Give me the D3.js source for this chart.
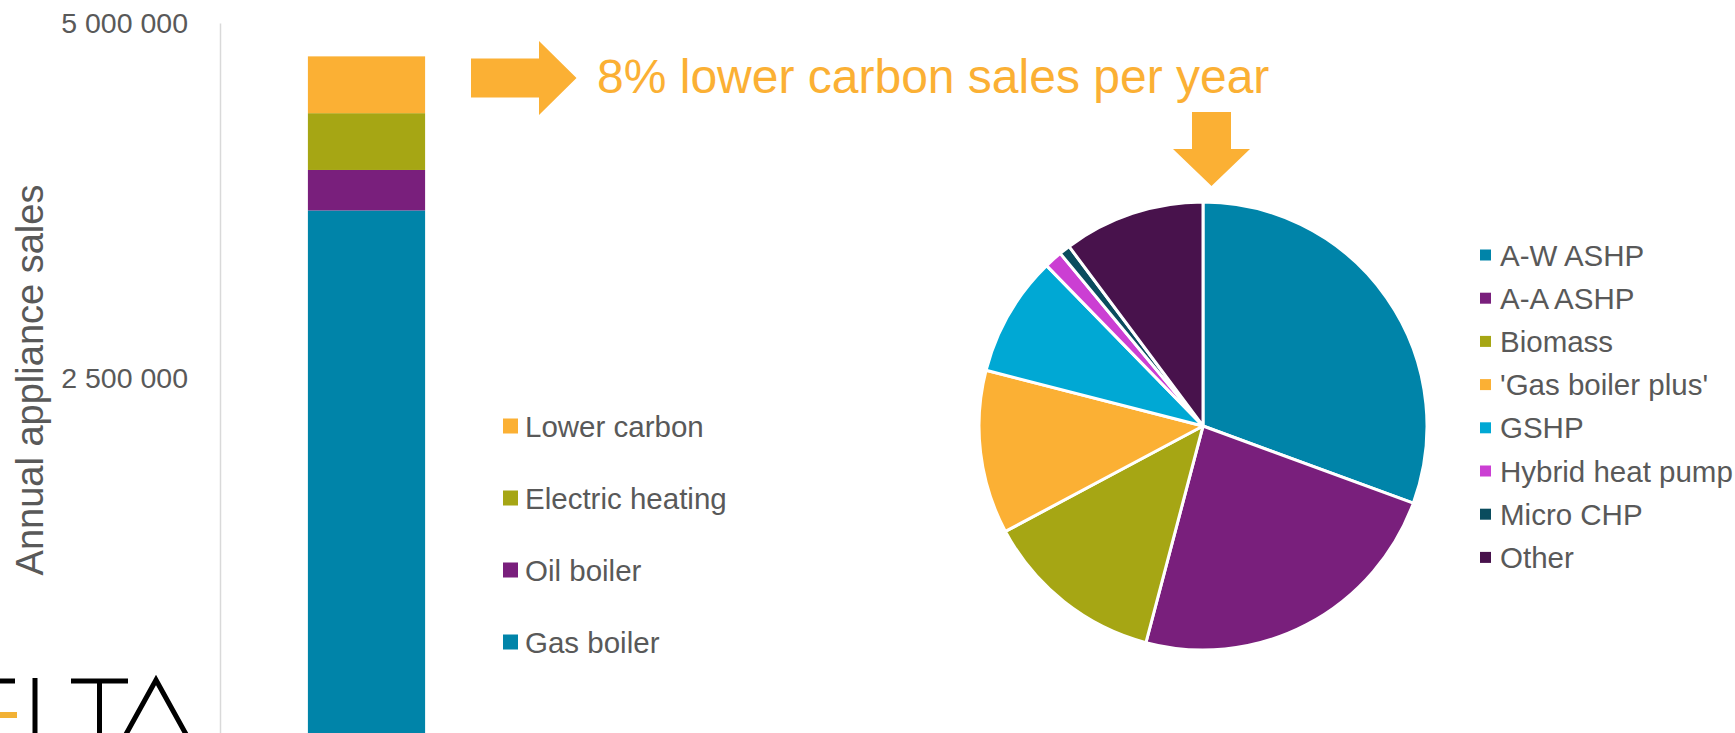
<!DOCTYPE html>
<html>
<head>
<meta charset="utf-8">
<script src="https://cdn.jsdelivr.net/npm/d3@7"></script>
<style>
  html, body { margin:0; padding:0; background:#fff; overflow:hidden; }
  svg { display:block; font-family: Arial, "Liberation Sans", sans-serif; }
</style>
</head>
<body>
<div class="chart"></div>
<script>
// stacked bar: annual appliance sales
const barCategories = ["Gas boiler", "Oil boiler", "Electric heating", "Lower carbon"];
const barValues = [3680000, 285000, 400000, 400000];
const barColors = ["#0084A9", "#791F7C", "#A6A614", "#FBB034"];
const yTicks = [2500000, 5000000];

// pie: split of the lower carbon sales (%)
const pieCategories = ["A-W ASHP", "A-A ASHP", "Biomass", "'Gas boiler plus'", "GSHP", "Hybrid heat pump", "Micro CHP", "Other"];
const pieValues = [30.6, 23.5, 13.1, 11.8, 8.7, 1.3, 0.8, 10.2];
const pieColors = ["#0084A9", "#791F7C", "#A6A614", "#FBB034", "#00A8D4", "#CB3FD3", "#0A4C5E", "#48124C"];

const title = "8% lower carbon sales per year";
const yLabel = "Annual appliance sales";

const W = 1735, H = 733;
const textColor = "#595959";
const accent = "#FBB034";

const svg = d3.select(".chart").append("svg")
    .attr("width", W)
    .attr("height", H);

// ---- bar ----
const yScale = d3.scaleLinear().domain([0, 5000000]).range([733, 23]);
const xScale = d3.scaleBand().domain(["sales"]).range([220, 513]).paddingOuter(0.75);

const fmt = d3.formatLocale({ decimal: ",", thousands: " ", grouping: [3], currency: ["", ""] }).format(",d");

const yAxis = d3.axisLeft(yScale).tickValues(yTicks).tickFormat(fmt).tickSize(0).tickPadding(32);

const axis = svg.append("g")
    .attr("transform", "translate(220,0)")
    .call(yAxis);

axis.select(".domain").attr("stroke", "#D9D9D9").attr("stroke-width", 1.5);
axis.selectAll(".tick text")
    .attr("fill", textColor)
    .attr("font-size", 28.5)
    .attr("font-family", "Arial, 'Liberation Sans', sans-serif");

svg.append("text")
    .attr("transform", "translate(43,380) rotate(-90)")
    .attr("text-anchor", "middle")
    .attr("fill", textColor)
    .attr("font-size", 38)
    .text(yLabel);

const row = {};
barCategories.forEach((c, i) => row[c] = barValues[i]);
const stacked = d3.stack().keys(barCategories)([row]);

svg.append("g").selectAll("rect")
    .data(stacked)
    .enter()
    .append("rect")
    .attr("x", xScale("sales"))
    .attr("width", xScale.bandwidth())
    .attr("y", d => yScale(d[0][1]))
    .attr("height", d => yScale(d[0][0]) - yScale(d[0][1]))
    .attr("fill", (d, i) => barColors[i]);

// bar legend (top to bottom reversed)
const barLegend = svg.append("g").selectAll("g")
    .data(barCategories.map((c, i) => ({ c, color: barColors[i] })).reverse())
    .enter()
    .append("g")
    .attr("transform", (d, i) => `translate(503,${426 + i * 72})`);

barLegend.append("rect")
    .attr("y", -7.5)
    .attr("width", 15)
    .attr("height", 15)
    .attr("fill", d => d.color);

barLegend.append("text")
    .attr("x", 22)
    .attr("y", 10.5)
    .attr("fill", textColor)
    .attr("font-size", 29.5)
    .text(d => d.c);

// ---- pie ----
const pie = d3.pie().sort(null).value(d => d)(pieValues);
const arc = d3.arc().innerRadius(0).outerRadius(224);

svg.append("g")
    .attr("transform", "translate(1203,426)")
    .selectAll("path")
    .data(pie)
    .enter()
    .append("path")
    .attr("d", arc)
    .attr("fill", (d, i) => pieColors[i])
    .attr("stroke", "#fff")
    .attr("stroke-width", 3)
    .attr("stroke-linejoin", "round");

const pieLegend = svg.append("g").selectAll("g")
    .data(pieCategories)
    .enter()
    .append("g")
    .attr("transform", (d, i) => `translate(1480,${255 + i * 43.2})`);

pieLegend.append("rect")
    .attr("y", -5.5)
    .attr("width", 11)
    .attr("height", 11)
    .attr("fill", (d, i) => pieColors[i]);

pieLegend.append("text")
    .attr("x", 20)
    .attr("y", 10.5)
    .attr("fill", textColor)
    .attr("font-size", 29.5)
    .text(d => d);

// ---- callout ----
svg.append("text")
    .attr("x", 597)
    .attr("y", 93)
    .attr("fill", accent)
    .attr("font-size", 48)
    .text(title);

svg.append("path")
    .attr("d", "M471,58.6H539V41L576.5,78L539,115V97.4H471Z")
    .attr("fill", accent);

svg.append("path")
    .attr("d", "M1192,112H1231V149H1250L1211.5,186L1173,149H1192Z")
    .attr("fill", accent);

// ---- logo (clipped at the bottom-left) ----
const logo = svg.append("g").attr("fill", "none").attr("stroke", "#000").attr("stroke-width", 5);
logo.append("path").attr("d", "M-5,681H15");
logo.append("path").attr("d", "M-5,715H17").attr("stroke", "#F2B134").attr("stroke-width", 6);
logo.append("path").attr("d", "M35,678V740");
logo.append("path").attr("d", "M71,681H128M99.5,681V740");
logo.append("path").attr("d", "M156,680L125,736H187Z").attr("stroke-linejoin", "miter");
</script>
</body>
</html>
